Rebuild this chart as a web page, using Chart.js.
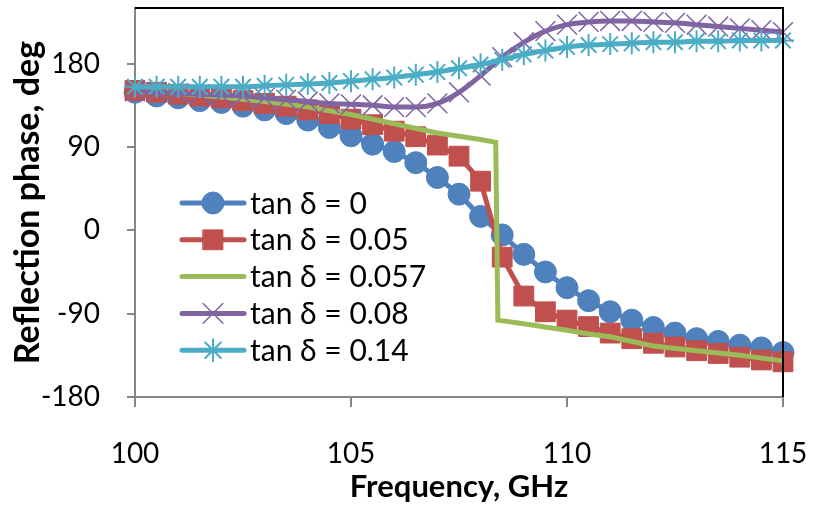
<!DOCTYPE html>
<html>
<head>
<meta charset="utf-8">
<script src="https://cdn.jsdelivr.net/npm/chart.js@4"></script>
<style>
  html, body { margin: 0; padding: 0; background: #fff; }
  #wrap { width: 814px; height: 506px; }
</style>
</head>
<body>
<div id="wrap"><canvas id="c"></canvas></div>
<script>
// === Daten: Reflexionsphase über Frequenz ===
const freq = [100, 100.5, 101, 101.5, 102, 102.5, 103, 103.5, 104, 104.5,
              105, 105.5, 106, 106.5, 107, 107.5, 108, 108.5, 109, 109.5,
              110, 110.5, 111, 111.5, 112, 112.5, 113, 113.5, 114, 114.5, 115];

const phaseTan0 = [149, 145, 143, 140, 138, 134, 130, 126, 119, 111,
                   102, 93, 85, 73, 57, 39, 15, -5, -26, -45,
                   -62, -76, -88, -97, -105, -111, -117, -120, -124, -127, -132];

const phaseTan005 = [151, 149, 147, 145, 143, 140, 137, 134, 130, 126,
                     120, 114, 107, 101, 92, 80, 53, -29, -71, -88,
                     -97, -104, -111, -117, -122, -126, -130, -133, -137, -140, -142];

// tan δ = 0.057 hat eigene Frequenzstützstellen (Sprung bei ~108.4 GHz)
const freq0057  = [100, 101, 102, 103, 104, 105, 106, 107, 108, 108.35,
                   108.4, 109, 110, 110.5, 111, 112, 113, 114, 115];
const phaseTan0057 = [151, 148, 144, 139, 133, 125, 115, 105, 98, 95,
                      -97, -101, -108, -112, -115, -125, -130, -135, -141];

const phaseTan008 = [150, 149, 148, 147, 146, 145, 143, 141, 139, 137,
                     136, 135, 133, 133, 137, 149, 167, 187, 203, 215,
                     222, 225, 226, 226, 225, 224, 222, 220, 218, 216, 214];

const phaseTan014 = [155, 155, 155, 155, 155, 155, 156, 157, 158, 159,
                     161, 163, 165, 168, 171, 175, 179, 184, 190, 194,
                     198, 200, 201, 202, 203, 203, 204, 204, 205, 205, 205];

const seriesLabels = ['tan δ = 0', 'tan δ = 0.05', 'tan δ = 0.057', 'tan δ = 0.08', 'tan δ = 0.14'];
const yTickValues = [-180, -90, 0, 90, 180];
const xTickValues = [100, 105, 110, 115];

const toXY = (xs, ys) => xs.map((x, i) => ({ x: x, y: ys[i] }));

const FONT = 'Lato, "Open Sans", sans-serif';

// Legende innerhalb der Plotfläche (wie im Original)
const insideLegend = {
  id: 'insideLegend',
  afterDatasetsDraw(chart) {
    const { ctx, chartArea } = chart;
    const x0 = chartArea.left + 47;
    const y0 = chartArea.top + 195;
    const row = 36.8;
    chart.data.datasets.forEach((ds, i) => {
      const y = y0 + i * row;
      ctx.save();
      ctx.strokeStyle = ds.borderColor;
      ctx.lineWidth = ds.borderWidth;
      ctx.lineCap = 'round';
      ctx.beginPath();
      ctx.moveTo(x0, y);
      ctx.lineTo(x0 + 62, y);
      ctx.stroke();
      if (ds.pointRadius > 0) {
        ctx.fillStyle = ds.pointBackgroundColor;
        ctx.strokeStyle = ds.pointBorderColor;
        ctx.lineWidth = ds.pointBorderWidth;
        Chart.helpers.drawPoint(ctx, {
          pointStyle: ds.pointStyle, radius: ds.pointRadius,
          borderWidth: ds.pointBorderWidth, rotation: 0
        }, x0 + 31, y);
      }
      ctx.fillStyle = '#000';
      ctx.font = '30px ' + FONT;
      ctx.textBaseline = 'middle';
      ctx.textAlign = 'left';
      ctx.fillText(ds.label, x0 + 68, y + 1);
      ctx.restore();
    });
  }
};

// schwarzer Rahmen oben + rechts
const frame = {
  id: 'frame',
  afterDraw(chart) {
    const { ctx, chartArea: a } = chart;
    ctx.save();
    ctx.strokeStyle = '#000';
    ctx.lineWidth = 2;
    ctx.beginPath();
    ctx.moveTo(a.left, a.top);
    ctx.lineTo(a.right, a.top);
    ctx.lineTo(a.right, a.bottom);
    ctx.stroke();
    ctx.restore();
  }
};

new Chart(document.getElementById('c'), {
  type: 'line',
  data: {
    datasets: [
      {
        label: seriesLabels[0],
        data: toXY(freq, phaseTan0),
        borderColor: '#4F81BD', borderWidth: 5,
        pointStyle: 'circle', pointRadius: 11,
        pointBackgroundColor: '#4F81BD', pointBorderColor: '#4F81BD', pointBorderWidth: 1,
        tension: 0, order: 5
      },
      {
        label: seriesLabels[1],
        data: toXY(freq, phaseTan005),
        borderColor: '#C0504D', borderWidth: 5,
        pointStyle: 'rect', pointRadius: 14,
        pointBackgroundColor: '#C0504D', pointBorderColor: '#C0504D', pointBorderWidth: 1,
        tension: 0, order: 4
      },
      {
        label: seriesLabels[2],
        data: toXY(freq0057, phaseTan0057),
        borderColor: '#9BBB59', borderWidth: 5,
        pointRadius: 0,
        tension: 0, order: 3
      },
      {
        label: seriesLabels[3],
        data: toXY(freq, phaseTan008),
        borderColor: '#8064A2', borderWidth: 5,
        pointStyle: 'crossRot', pointRadius: 14,
        pointBackgroundColor: '#8064A2', pointBorderColor: '#8064A2', pointBorderWidth: 1.5,
        tension: 0.4, cubicInterpolationMode: 'monotone', order: 2
      },
      {
        label: seriesLabels[4],
        data: toXY(freq, phaseTan014),
        borderColor: '#4BACC6', borderWidth: 5,
        pointStyle: 'star', pointRadius: 11,
        pointBackgroundColor: '#4BACC6', pointBorderColor: '#4BACC6', pointBorderWidth: 2,
        tension: 0.4, cubicInterpolationMode: 'monotone', order: 1
      }
    ]
  },
  options: {
    responsive: true,
    maintainAspectRatio: false,
    animation: false,
    clip: false,
    layout: { autoPadding: false, padding: { top: 8, right: 31, left: 0, bottom: 0 } },
    plugins: {
      legend: { display: false },
      tooltip: { enabled: false }
    },
    scales: {
      x: {
        type: 'linear', min: 100, max: 115,
        afterBuildTicks: axis => { axis.ticks = xTickValues.map(v => ({ value: v })); },
        afterFit: s => { s.height = 109; s.paddingLeft = 0; s.paddingRight = 0; },
        ticks: { color: '#000', font: { family: FONT, size: 28 }, padding: 30, maxRotation: 0 },
        grid: { drawOnChartArea: false, tickLength: 10, color: '#868686', lineWidth: 2 },
        border: { color: '#868686', width: 2 },
        title: {
          display: true, text: 'Frequency, GHz', color: '#000',
          font: { family: FONT, size: 31, weight: 'bold' }, padding: { top: 3, bottom: 0 }
        }
      },
      y: {
        min: -180, max: 240,
        afterBuildTicks: axis => { axis.ticks = yTickValues.map(v => ({ value: v })); },
        afterFit: s => { s.width = 135; s.paddingTop = 0; s.paddingBottom = 0; },
        ticks: { color: '#000', font: { family: FONT, size: 28 }, padding: 27 },
        grid: { drawOnChartArea: false, tickLength: 8, color: '#868686', lineWidth: 2 },
        border: { color: '#868686', width: 2 },
        title: {
          display: true, text: 'Reflection phase, deg', color: '#000',
          font: { family: FONT, size: 34, weight: 'bold' }, padding: { top: 8, bottom: 0 }
        }
      }
    }
  },
  plugins: [insideLegend, frame]
});
</script>
</body>
</html>
